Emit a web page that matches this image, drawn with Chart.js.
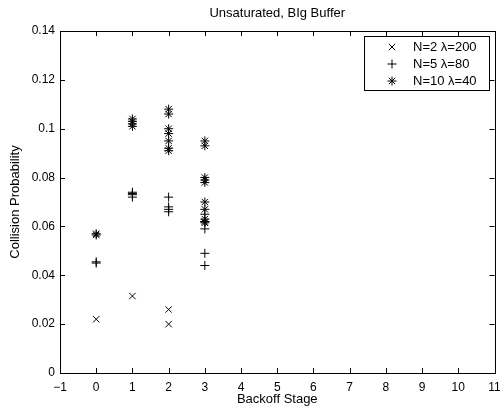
<!DOCTYPE html>
<html>
<head>
<meta charset="utf-8">
<script src="https://cdn.jsdelivr.net/npm/chart.js@4"></script>
<style>
  html, body { margin: 0; padding: 0; background: #fff; }
  #wrap { width: 500px; height: 407px; }
</style>
</head>
<body>
<div id="wrap"><canvas id="chart" width="500" height="407"></canvas></div>
<script>
// ---- data ----
const TITLE = "Unsaturated, BIg Buffer";
const X_TITLE = "Backoff Stage";
const Y_TITLE = "Collision Probability";

const SERIES_LABELS = ["N=2 \u03bb=200", "N=5 \u03bb=80", "N=10 \u03bb=40"];
const SERIES_MARKERS = ["crossRot", "cross", "star"];

// N=2 lambda=200
const n2Stage = [0, 1, 2, 2];
const n2Prob  = [0.022, 0.0315, 0.026, 0.020];

// N=5 lambda=80
const n5Stage = [0, 0, 1, 1, 1, 1, 2, 2, 2, 2, 3, 3, 3, 3, 3];
const n5Prob  = [0.045, 0.0455, 0.072, 0.073, 0.0735, 0.074, 0.072, 0.068, 0.067, 0.066, 0.065, 0.062, 0.059, 0.049, 0.044];

// N=10 lambda=40
const n10Stage = [0, 0, 1, 1, 1, 1, 2, 2, 2, 2, 2, 2, 2, 3, 3, 3, 3, 3, 3, 3, 3, 3, 3];
const n10Prob  = [0.057, 0.0565, 0.101, 0.102, 0.103, 0.104, 0.108, 0.106, 0.100, 0.098, 0.095, 0.092, 0.091,
                  0.095, 0.093, 0.080, 0.079, 0.078, 0.070, 0.067, 0.063, 0.062, 0.0615];

const X_MIN = -1, X_MAX = 11, X_STEP = 1;
const Y_MIN = 0, Y_MAX = 0.14, Y_STEP = 0.02;

// ---- helpers ----
function toPoints(xs, ys) {
  return xs.map((x, i) => ({ x: x, y: ys[i] }));
}

const FONT = "'Liberation Sans', Arial, Helvetica, sans-serif";

// draws box, inward ticks, title and a MATLAB-like legend
const matlabLook = {
  id: "matlabLook",
  afterDraw(chart) {
    const ctx = chart.ctx;
    const a = chart.chartArea;
    const xs = chart.scales.x, ys = chart.scales.y;
    ctx.save();
    ctx.strokeStyle = "#000";
    ctx.lineWidth = 1;

    // box
    ctx.strokeRect(Math.round(a.left) + 0.5, Math.round(a.top) + 0.5,
                   Math.round(a.right - a.left), Math.round(a.bottom - a.top));

    // inward ticks
    const tl = 5;
    ctx.beginPath();
    for (let v = X_MIN; v <= X_MAX; v += X_STEP) {
      const px = Math.round(xs.getPixelForValue(v)) + 0.5;
      ctx.moveTo(px, a.bottom); ctx.lineTo(px, a.bottom - tl);
      ctx.moveTo(px, a.top); ctx.lineTo(px, a.top + tl);
    }
    for (let i = 0; i <= Math.round((Y_MAX - Y_MIN) / Y_STEP); i++) {
      const py = Math.round(ys.getPixelForValue(Y_MIN + i * Y_STEP)) + 0.5;
      ctx.moveTo(a.left, py); ctx.lineTo(a.left + tl, py);
      ctx.moveTo(a.right, py); ctx.lineTo(a.right - tl, py);
    }
    ctx.stroke();

    // title
    ctx.fillStyle = "#000";
    ctx.font = "13px " + FONT;
    ctx.textAlign = "center";
    ctx.textBaseline = "middle";
    ctx.fillText(TITLE, (a.left + a.right) / 2, 13);

    // legend
    const lx = 364, ly = 36, lw = 125, lh = 54;
    ctx.fillStyle = "#fff";
    ctx.fillRect(lx, ly, lw, lh);
    ctx.strokeRect(lx + 0.5, ly + 0.5, lw, lh);
    ctx.font = "13px " + FONT;
    ctx.textAlign = "left";
    chart.data.datasets.forEach((ds, i) => {
      const ry = ly + 11 + i * 17;
      ctx.strokeStyle = "#000";
      ctx.lineWidth = 1;
      Chart.helpers.drawPoint(ctx, { pointStyle: ds.pointStyle, radius: ds.pointRadius, borderWidth: 1 }, 392, ry);
      ctx.fillStyle = "#000";
      ctx.fillText(ds.label, 413, ry);
    });
    ctx.restore();
  }
};

function makeSet(label, marker, xs, ys, r) {
  return {
    label: label,
    data: toPoints(xs, ys),
    pointStyle: marker,
    pointRadius: r,
    pointHoverRadius: r,
    pointBorderColor: "#000",
    pointBackgroundColor: "#000",
    pointBorderWidth: 1,
    borderColor: "#000",
    backgroundColor: "#000",
    showLine: false
  };
}

new Chart(document.getElementById("chart").getContext("2d"), {
  type: "scatter",
  data: {
    datasets: [
      makeSet(SERIES_LABELS[0], SERIES_MARKERS[0], n2Stage, n2Prob, 4.5),
      makeSet(SERIES_LABELS[1], SERIES_MARKERS[1], n5Stage, n5Prob, 4.5),
      makeSet(SERIES_LABELS[2], SERIES_MARKERS[2], n10Stage, n10Prob, 4.5)
    ]
  },
  options: {
    responsive: false,
    animation: false,
    layout: { padding: { top: 31, right: 4, left: 0, bottom: 0 } },
    plugins: {
      legend: { display: false },
      title: { display: false },
      tooltip: { enabled: false }
    },
    scales: {
      x: {
        type: "linear",
        min: X_MIN, max: X_MAX,
        grid: { display: false, drawTicks: false },
        border: { display: false },
        ticks: {
          stepSize: X_STEP,
          color: "#000",
          padding: 7,
          maxRotation: 0,
          font: { family: FONT, size: 12 },
          callback: v => (v < 0 ? "\u2212" + Math.abs(v) : String(v))
        },
        title: {
          display: true, text: X_TITLE, color: "#000",
          font: { family: FONT, size: 13 },
          padding: { top: 0, bottom: 0 }
        },
        afterFit: s => { s.height = 34; s.paddingRight = 0; }
      },
      y: {
        type: "linear",
        min: Y_MIN, max: Y_MAX,
        grid: { display: false, drawTicks: false },
        border: { display: false },
        ticks: {
          stepSize: Y_STEP,
          color: "#000",
          padding: 5,
          font: { family: FONT, size: 12 },
          callback: v => String(+v.toFixed(2))
        },
        title: {
          display: true, text: Y_TITLE, color: "#000",
          font: { family: FONT, size: 13 },
          padding: { top: 8, bottom: 4 }
        },
        afterFit: s => { s.width = 60; }
      }
    }
  },
  plugins: [matlabLook]
});
</script>
</body>
</html>
